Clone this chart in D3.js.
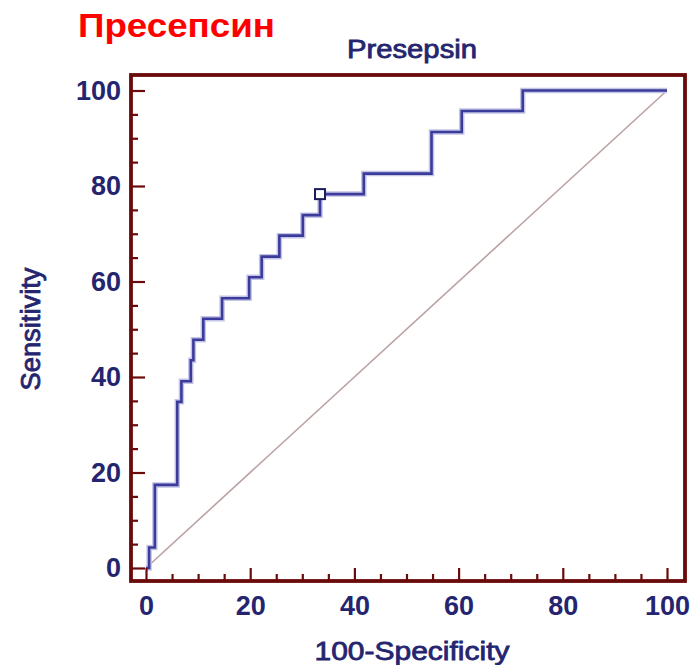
<!DOCTYPE html>
<html>
<head>
<meta charset="utf-8">
<script src="https://cdn.jsdelivr.net/npm/d3@7"></script>
<style>
  html, body { margin: 0; padding: 0; background: #fff; }
  svg { display: block; }
</style>
</head>
<body>
<svg id="chart" width="695" height="665"></svg>
<script>
// ROC points: 100-Specificity (x) and Sensitivity (y)
var fpr = [0, 0.6, 1.7, 6.0, 6.8, 8.6, 9.1, 11.0, 14.6, 19.8, 22.2, 25.6, 30.1, 33.4, 41.8, 54.8, 60.6, 72.3, 100];
var tpr = [0, 4.3, 17.4, 34.8, 39.1, 43.5, 47.8, 52.2, 56.5, 60.9, 65.2, 69.6, 73.9, 78.3, 82.6, 91.3, 95.7, 100, 100];
var cutoff = [33.4, 78.3]; // optimal criterion marker
var majorTicks = [0, 20, 40, 60, 80, 100];
var minorTicks = [5, 10, 15, 25, 30, 35, 45, 50, 55, 65, 70, 75, 85, 90, 95];

var titleRu = 'Пресепсин';
var titleEn = 'Presepsin';
var xLabel = '100-Specificity';
var yLabel = 'Sensitivity';

(function () {
  "use strict";

  var opt = {
    font: 'Liberation Sans, Arial, sans-serif',
    ink: '#25256f',
    frame: '#6a0a0a',
    curve: '#3b3b9c',
    halo: '#c4c4e6',
    diag: '#bba2a2'
  };

  var svg = d3.select('#chart');

  var x = d3.scaleLinear().domain([0, 100]).range([146, 667]);
  var y = d3.scaleLinear().domain([0, 100]).range([568, 90.5]);

  var frame = { x0: 131, x1: 685, y0: 75, y1: 581 };

  function label(sel, size, len) {
    sel.attr('font-family', opt.font)
      .attr('font-size', size)
      .attr('fill', opt.ink)
      .attr('stroke', opt.ink)
      .attr('stroke-width', 0.8)
      .attr('textLength', len)
      .attr('lengthAdjust', 'spacingAndGlyphs');
  }

  // red heading
  svg.append('text')
    .attr('x', 78)
    .attr('y', 37)
    .attr('font-family', opt.font)
    .attr('font-weight', 'bold')
    .attr('font-size', 33)
    .attr('fill', '#ff0000')
    .attr('textLength', 197)
    .attr('lengthAdjust', 'spacingAndGlyphs')
    .text(titleRu);

  // chart title
  svg.append('text')
    .attr('x', 412)
    .attr('y', 58)
    .attr('text-anchor', 'middle')
    .call(label, 25, 130)
    .text(titleEn);

  // diagonal reference line
  svg.append('line')
    .attr('x1', x(0)).attr('y1', y(0))
    .attr('x2', x(100)).attr('y2', y(100))
    .attr('stroke', opt.diag)
    .attr('stroke-width', 1.6);

  // ROC step curve
  var points = fpr.map(function (d, i) { return [d, tpr[i]]; });
  var line = d3.line()
    .x(function (d) { return x(d[0]); })
    .y(function (d) { return y(d[1]); })
    .curve(d3.curveStepAfter);

  svg.append('path')
    .attr('d', line(points))
    .attr('fill', 'none')
    .attr('stroke', opt.halo)
    .attr('stroke-width', 5.5);

  svg.append('path')
    .attr('d', line(points))
    .attr('fill', 'none')
    .attr('stroke', opt.curve)
    .attr('stroke-width', 2.6);

  svg.append('rect')
    .attr('x', x(cutoff[0]) - 5)
    .attr('y', y(cutoff[1]) - 5)
    .attr('width', 10)
    .attr('height', 10)
    .attr('fill', '#fff')
    .attr('stroke', '#1c1c5c')
    .attr('stroke-width', 2);

  // axes with inward ticks
  function styleAxis(g) {
    g.select('.domain').remove();
    g.selectAll('.tick line').attr('stroke', opt.frame).attr('stroke-width', 2.2);
    g.selectAll('.tick text')
      .attr('font-family', opt.font)
      .attr('font-weight', 'bold')
      .attr('font-size', 27)
      .attr('fill', opt.ink);
  }

  svg.append('g')
    .attr('transform', 'translate(' + frame.x0 + ',0)')
    .call(d3.axisLeft(y).tickValues(majorTicks).tickSize(-14).tickPadding(10))
    .call(styleAxis);

  svg.append('g')
    .attr('transform', 'translate(' + frame.x0 + ',0)')
    .call(d3.axisLeft(y).tickValues(minorTicks).tickSize(-7).tickFormat(''))
    .call(styleAxis);

  svg.append('g')
    .attr('transform', 'translate(0,' + frame.y1 + ')')
    .call(d3.axisBottom(x).tickValues(majorTicks).tickSize(-13).tickPadding(15))
    .call(styleAxis)
    .selectAll('.tick text').attr('dy', '0.71em');

  svg.append('g')
    .attr('transform', 'translate(0,' + frame.y1 + ')')
    .call(d3.axisBottom(x).tickValues(minorTicks).tickSize(-7).tickFormat(''))
    .call(styleAxis);

  // frame
  svg.append('rect')
    .attr('x', frame.x0)
    .attr('y', frame.y0)
    .attr('width', frame.x1 - frame.x0)
    .attr('height', frame.y1 - frame.y0)
    .attr('fill', 'none')
    .attr('stroke', opt.frame)
    .attr('stroke-width', 3.8);

  // axis titles
  svg.append('text')
    .attr('x', 412)
    .attr('y', 660)
    .attr('text-anchor', 'middle')
    .call(label, 26, 195)
    .text(xLabel);

  svg.append('text')
    .attr('transform', 'translate(40,329) rotate(-90)')
    .attr('text-anchor', 'middle')
    .call(label, 27, 123)
    .text(yLabel);
}());
</script>
</body>
</html>
